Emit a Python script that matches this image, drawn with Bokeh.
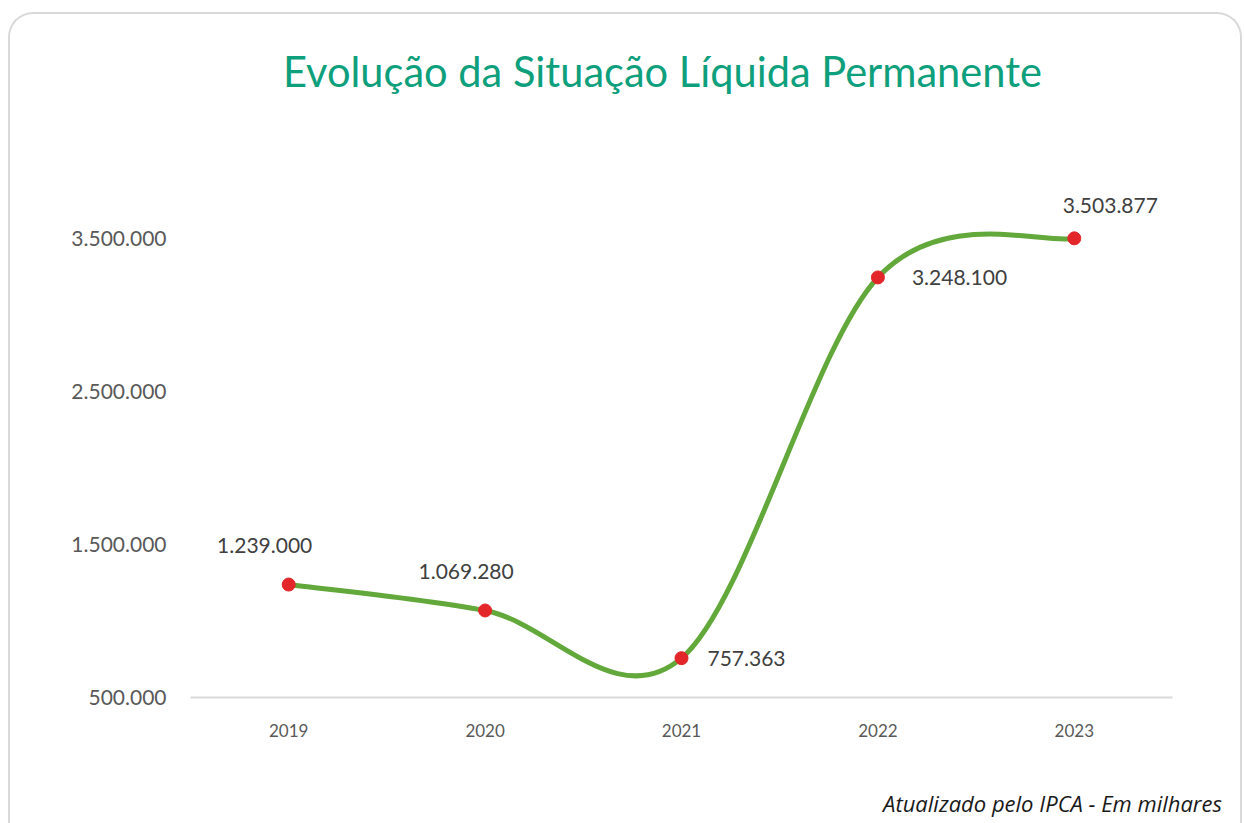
from bokeh.plotting import figure
from bokeh.layouts import column
from bokeh.models import (Range1d, FixedTicker, ColumnDataSource, LabelSet, Div)
from bokeh.core.properties import value
from bokeh.embed import file_html
from bokeh.resources import INLINE

# ---- data ----
years = ["2019", "2020", "2021", "2022", "2023"]
values = [1239000, 1069280, 757363, 3248100, 3503877]
y_ticks = [500000, 1500000, 2500000, 3500000]
title_text = "Evolução da Situação Líquida Permanente"
footer_text = "Atualizado pelo IPCA - Em milhares"

# label placement (style)
lbl_dx = [-24, -19, 26, 34, 36]
lbl_dy = [39, 39, 0, 0, 33]
lbl_align = ["center", "center", "left", "left", "center"]


def fmt(v):
    return f"{v:,}".replace(",", ".")


xs = [i + 0.5 for i in range(len(years))]

OX, OY, BW = 8, 12, 2           # card origin on page, border width
CX, CY = OX + BW, OY + BW       # content origin on page
CW = 1230                       # content width
TH = 100                        # title block height
FH = 63                         # footer block height
PH = 823 - CY - TH - FH         # figure height
PY = CY + TH                    # figure top on page
FL, FR, FT, FB = 190 - CX, 1172 - CX, 162 - PY, 697 - PY
YMIN, YMAX = 500000, 4000000
XMAX = len(years)

p = figure(width=CW, height=PH, output_backend="svg", toolbar_location=None,
           x_range=Range1d(0, XMAX), y_range=Range1d(YMIN, YMAX))
p.margin = 0
p.min_border_left = FL
p.min_border_right = CW - FR
p.min_border_top = FT
p.min_border_bottom = PH - FB
p.outline_line_color = None
p.background_fill_color = "white"
p.border_fill_color = None
p.xgrid.visible = False
p.ygrid.visible = False

# axes
p.xaxis.ticker = FixedTicker(ticks=xs)
p.xaxis.major_label_overrides = {x: y for x, y in zip(xs, years)}
p.xaxis.axis_line_color = "#d9d9d9"
p.xaxis.axis_line_width = 2
p.xaxis.major_tick_line_color = None
p.xaxis.minor_tick_line_color = None
p.xaxis.major_label_standoff = 20
p.xaxis.major_label_text_font = "Lato"
p.xaxis.major_label_text_font_size = "17px"
p.xaxis.major_label_text_color = "#595959"

p.yaxis.ticker = FixedTicker(ticks=y_ticks)
p.yaxis.major_label_overrides = {t: fmt(t) for t in y_ticks}
p.yaxis.axis_line_color = None
p.yaxis.major_tick_line_color = None
p.yaxis.minor_tick_line_color = None
p.yaxis.major_label_standoff = 18
p.yaxis.major_label_text_font = "Lato"
p.yaxis.major_label_text_font_size = "21px"
p.yaxis.major_label_text_color = "#595959"

# smooth line: Catmull-Rom (Excel style) bezier segments from data points
n = len(xs)
x0, y0, x1, y1, bx0, by0, bx1, by1 = ([] for _ in range(8))
for i in range(n - 1):
    pm = (xs[max(i - 1, 0)], values[max(i - 1, 0)])
    pa = (xs[i], values[i])
    pb = (xs[i + 1], values[i + 1])
    pn = (xs[min(i + 2, n - 1)], values[min(i + 2, n - 1)])
    x0.append(pa[0]); y0.append(pa[1]); x1.append(pb[0]); y1.append(pb[1])
    bx0.append(pa[0] + (pb[0] - pm[0]) / 6); by0.append(pa[1] + (pb[1] - pm[1]) / 6)
    bx1.append(pb[0] - (pn[0] - pa[0]) / 6); by1.append(pb[1] - (pn[1] - pa[1]) / 6)
p.bezier(x0=x0, y0=y0, x1=x1, y1=y1, cx0=bx0, cy0=by0, cx1=bx1, cy1=by1,
         line_color="#63a83a", line_width=5, line_cap="round")

src = ColumnDataSource(dict(x=xs, y=values, lab=[fmt(v) for v in values],
                            dx=lbl_dx, dy=lbl_dy, al=lbl_align))
p.scatter("x", "y", source=src, size=13, fill_color="#e3262a", line_color="#e3262a")
p.add_layout(LabelSet(x="x", y="y", text="lab", source=src, x_offset="dx", y_offset="dy",
                      text_align="al", text_baseline="middle", text_font=value("Lato"),
                      text_font_size=value("21px"), text_color="#404040"))

# title and footer blocks
title_div = Div(
    text=(f'<div style="position:absolute; left:{283 - CX}px; top:{72 - CY}px; '
          f'transform:translateY(-50%); white-space:nowrap; font-family:Lato; '
          f'font-size:41.6px; line-height:1; color:#0e9f7c;">{title_text}</div>'),
    width=CW, height=TH, margin=0,
    styles={"position": "relative", "overflow": "visible"})
footer_div = Div(
    text=(f'<div style="position:absolute; right:{CX + CW - 1222}px; '
          f'top:{803 - (823 - FH)}px; transform:translateY(-50%); white-space:nowrap; '
          f'font-family:\'Open Sans\'; font-style:italic; font-size:22px; line-height:1; '
          f'color:#1a1a1a;">{footer_text}</div>'),
    width=CW, height=FH, margin=0,
    styles={"position": "relative", "overflow": "visible"})

layout = column(title_div, p, footer_div, spacing=0)
layout.margin = (OY, 0, 0, OX)
layout.styles = {"border-top": f"{BW}px solid #d9d9d9", "border-left": f"{BW}px solid #d9d9d9",
                 "border-right": f"{BW}px solid #d9d9d9",
                 "border-top-left-radius": "25px", "border-top-right-radius": "25px",
                 "background": "white"}

open("out.html", "w").write(file_html(layout, INLINE))
